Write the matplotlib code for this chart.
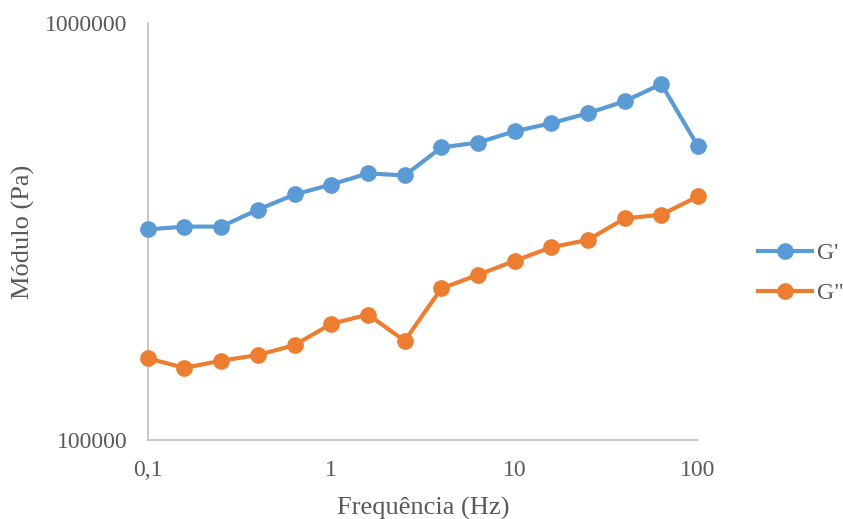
import matplotlib
matplotlib.use("Agg")
import matplotlib.pyplot as plt
from matplotlib.ticker import FixedLocator, FixedFormatter, NullLocator

freq = [0.1, 0.158, 0.251, 0.398, 0.631, 1, 1.585, 2.512, 3.981, 6.31,
        10, 15.85, 25.12, 39.81, 63.1, 100]
g_storage = [320000, 325000, 325000, 357000, 388000, 410000, 436000, 431000,
             503000, 517000, 550000, 575000, 608000, 649000, 714000, 506000]
g_loss = [157000, 149000, 155000, 160000, 169000, 190000, 200000, 173000,
          231000, 249000, 269000, 290000, 302000, 340000, 347000, 384000]

x_ticks = [0.1, 1, 10, 100]
x_labels = ["0,1", "1", "10", "100"]
y_ticks = [100000, 1000000]
y_labels = ["100000", "1000000"]

text_color = "#595959"
plt.rcParams["font.family"] = ["Liberation Serif", "DejaVu Serif"]

fig = plt.figure(figsize=(8.43, 5.19), dpi=100)
ax = fig.add_axes([0.1756, 0.152, 0.8280 - 0.1756, 0.9557 - 0.152])

ax.plot(freq, g_storage, c="#5B9BD5", lw=3, marker="o", ms=11, label="G'",
        clip_on=False, zorder=3)
ax.plot(freq, g_loss, c="#ED7D31", lw=3, marker="o", ms=11, label='G"',
        clip_on=False, zorder=3)

ax.set_xscale("log")
ax.set_yscale("log")
ax.set_xlim(0.1, 100)
ax.set_ylim(100000, 1000000)

ax.xaxis.set_major_locator(FixedLocator(x_ticks))
ax.xaxis.set_major_formatter(FixedFormatter(x_labels))
ax.xaxis.set_minor_locator(NullLocator())
ax.yaxis.set_major_locator(FixedLocator(y_ticks))
ax.yaxis.set_major_formatter(FixedFormatter(y_labels))
ax.yaxis.set_minor_locator(NullLocator())

for s in ["top", "right"]:
    ax.spines[s].set_visible(False)
for s in ["left", "bottom"]:
    ax.spines[s].set_color("#bfbfbf")
    ax.spines[s].set_linewidth(1.2)

ax.tick_params(axis="both", length=0, labelsize=17, colors=text_color)
ax.tick_params(axis="x", pad=14)
ax.tick_params(axis="y", pad=15)

ax.set_xlabel("Frequência (Hz)", fontsize=19, color=text_color, labelpad=12)
ax.set_ylabel("Módulo (Pa)", fontsize=19, color=text_color, labelpad=7)

leg = ax.legend(loc="center left", bbox_to_anchor=(1.07, 0.40), frameon=False,
                fontsize=17, labelcolor=text_color, handlelength=2.3,
                handletextpad=0.2, labelspacing=0.8)

fig.savefig("out.png", dpi=100)
